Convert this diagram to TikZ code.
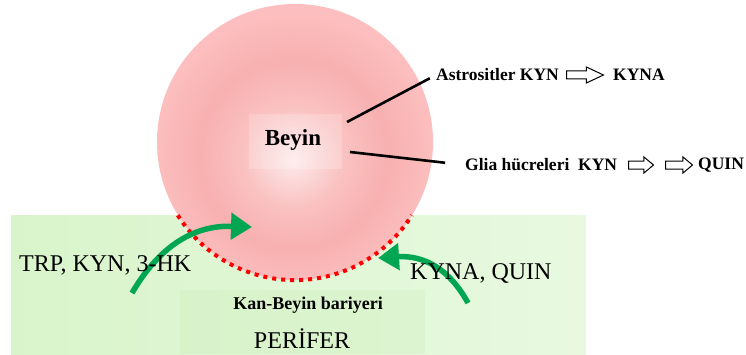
\documentclass[tikz,border=0pt]{standalone}
\usepackage{fontspec}
\setmainfont{Liberation Serif}
\usetikzlibrary{arrows.meta, shapes.arrows}

\definecolor{pinkcore}{HTML}{FDEAEA}
\definecolor{pinkmid}{HTML}{FAC2C2}
\definecolor{pinkring}{HTML}{F8B0B0}
\definecolor{pinkrim}{HTML}{FCBEBE}
\definecolor{periferlo}{HTML}{D9F4CB}
\definecolor{periferhi}{HTML}{E8F9E0}
\definecolor{periferdeep}{HTML}{CFEFBE}
\definecolor{transport}{RGB}{0,166,81}

\pgfdeclareradialshading{brainshade}{\pgfpoint{-0.4bp}{-3.3bp}}{%
  color(0bp)=(pinkcore); color(9bp)=(pinkmid); color(17bp)=(pinkring);
  color(25bp)=(pinkrim); color(50bp)=(pinkrim)}

\begin{document}
\begin{tikzpicture}[x=1pt, y=1pt,
  label big/.style={inner sep=0pt, font=\fontsize{24}{28}\selectfont},
  label bold/.style={inner sep=0pt, font=\fontsize{17.5}{20}\selectfont\bfseries},
  hollow/.style={single arrow, draw, line width=1pt, inner xsep=0pt,
    inner ysep=3.5pt, single arrow head extend=4pt, anchor=tail},
  carrier/.style={draw=transport, line width=5.5pt,
    -{Triangle[width=26pt, length=21pt]}},
  barrier/.style={draw=red, line width=4pt, dash pattern=on 4pt off 5pt},
  pointer/.style={draw=black, line width=2.6pt}]
\useasboundingbox (0,0) rectangle (746,354);

% periphery
\fill[left color=periferlo, right color=periferhi] (11,0) rectangle (586,139);
\fill[periferdeep, opacity=0.35] (180,0) rectangle (425,64);

% brain
\node[circle, minimum size=276pt, inner sep=0pt, shade, shading=brainshade] (brain) at (295,212) {};
\fill[white, opacity=0.2] (249,185) rectangle (342,240);
\node[label bold, font=\fontsize{23}{26}\selectfont\bfseries] (beyin) at (293,214) {Beyin};

% blood-brain barrier
\draw[barrier] (brain.212) arc[start angle=212, end angle=328, radius=138pt];

% transport in / out
\coordinate (inTail)  at (132,61);
\coordinate (inTip)   at (252,127);
\coordinate (outTail) at (468,51);
\coordinate (outTip)  at (378,96);
\draw[carrier] (inTail) .. controls (160,109) and (195,129) .. (inTip);
\draw[carrier] (outTail) .. controls (450,84) and (425,99) .. (outTip);

\node[label big, anchor=west] (blood) at (19,89)  {TRP, KYN, 3-HK};
\node[label big, anchor=west] (efflux) at (410,81) {KYNA, QUIN};
\node[label bold, font=\fontsize{18}{20}\selectfont\bfseries] (bbb) at (308,49) {Kan-Beyin bariyeri};
\node[label big, anchor=base] (perifer) at (302,6) {PERİFER};

% cell types
\node[label bold, anchor=west] (astro) at (436,279) {Astrositler KYN};
\node[hollow, minimum height=37pt, single arrow tip angle=50] (astroArrow) at (566,279) {};
\node[label bold, anchor=west] (kyna) at (613,279) {KYNA};

\node[label bold, anchor=west] (glia) at (465,189) {Glia hücreleri~ KYN};
\node[hollow, minimum height=25pt, single arrow tip angle=80] (gliaArrowA) at (628,189) {};
\node[hollow, minimum height=27pt, single arrow tip angle=80] (gliaArrowB) at (665,189) {};
\node[label bold, anchor=west] (quin) at (698,189) {QUIN};

\coordinate (astroFoot) at (347,232);
\coordinate (gliaFoot)  at (350,202);
\draw[pointer, shorten >=7pt] (astroFoot) -- (astro.west);
\draw[pointer, shorten >=20pt] (gliaFoot) -- (glia.west);
\end{tikzpicture}
\end{document}
